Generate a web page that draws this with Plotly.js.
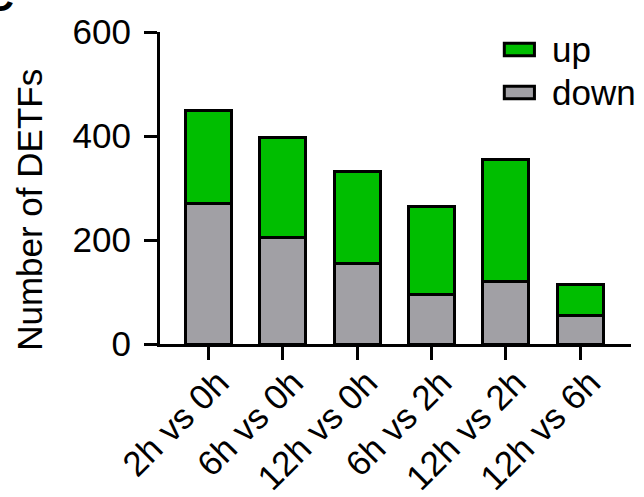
<!DOCTYPE html>
<html>
<head>
<meta charset="utf-8">
<script src="https://cdn.plot.ly/plotly-3.0.1.min.js"></script>
<style>html,body{margin:0;padding:0;background:#fff;}#chart{width:644px;height:497px;}</style>
</head>
<body>
<div id="chart"></div>
<script>
const categories = ["2h vs 0h", "6h vs 0h", "12h vs 0h", "6h vs 2h", "12h vs 2h", "12h vs 6h"];
const downValues = [270, 205, 154, 96, 121, 54];
const upValues = [180, 192, 177, 169, 233, 61];
const yTickVals = [0, 200, 400, 600];
const legendLabels = ["up", "down"];

const GREEN = "#00BE00";
const GRAY = "#A1A0A5";
const FONT = "Arial, 'Liberation Sans', sans-serif";

const traces = [
  {type: "bar", name: "down", x: categories, y: downValues,
   marker: {color: GRAY, line: {color: "#000", width: 3}}, showlegend: false},
  {type: "bar", name: "up", x: categories, y: upValues,
   marker: {color: GREEN, line: {color: "#000", width: 3}}, showlegend: false}
];

const layout = {
  width: 644, height: 497,
  margin: {l: 160, r: 13, t: 32, b: 153},
  paper_bgcolor: "#fff", plot_bgcolor: "#fff",
  barmode: "stack", bargap: 0.38,
  font: {family: FONT, size: 35, color: "#000"},
  xaxis: {
    type: "category", range: [-0.653, 5.686],
    showline: true, linecolor: "#000", linewidth: 3,
    ticks: "outside", ticklen: 13, tickwidth: 3, tickcolor: "#000",
    tickangle: -45, showgrid: false, zeroline: false,
    ticklabelstandoff: -12, ticklabelshift: 10,
    tickfont: {family: FONT, size: 35, color: "#000"}
  },
  yaxis: {
    range: [0, 600], tickvals: yTickVals, ticktext: yTickVals.map(String),
    showline: true, linecolor: "#000", linewidth: 3,
    ticks: "outside", ticklen: 13, tickwidth: 3, tickcolor: "#000",
    showgrid: false, zeroline: false, ticklabelstandoff: 6,
    tickfont: {family: FONT, size: 35, color: "#000"}
  },
  shapes: [
    {type: "rect", xref: "paper", yref: "paper", x0: 0.731, x1: 0.795, y0: 0.924, y1: 0.964,
     fillcolor: GREEN, line: {color: "#000", width: 3}},
    {type: "rect", xref: "paper", yref: "paper", x0: 0.731, x1: 0.795, y0: 0.786, y1: 0.826,
     fillcolor: GRAY, line: {color: "#000", width: 3}}
  ],
  annotations: [
    {text: "Number of DETFs", xref: "paper", yref: "paper", x: -0.276, y: 0.43,
     xanchor: "center", yanchor: "middle", textangle: -90, showarrow: false,
     font: {family: FONT, size: 35, color: "#000"}},
    {text: legendLabels[0], xref: "paper", yref: "paper", x: 0.828, y: 0.944,
     xanchor: "left", yanchor: "middle", showarrow: false,
     font: {family: FONT, size: 35, color: "#000"}},
    {text: legendLabels[1], xref: "paper", yref: "paper", x: 0.828, y: 0.806,
     xanchor: "left", yanchor: "middle", showarrow: false,
     font: {family: FONT, size: 35, color: "#000"}},
    {text: "<b>C</b>", xref: "paper", yref: "paper", x: -0.3057, y: 1.035,
     xanchor: "right", yanchor: "bottom", showarrow: false,
     font: {family: FONT, size: 40, color: "#000"}}
  ]
};

Plotly.newPlot("chart", traces, layout, {displayModeBar: false, staticPlot: true});
</script>
</body>
</html>
